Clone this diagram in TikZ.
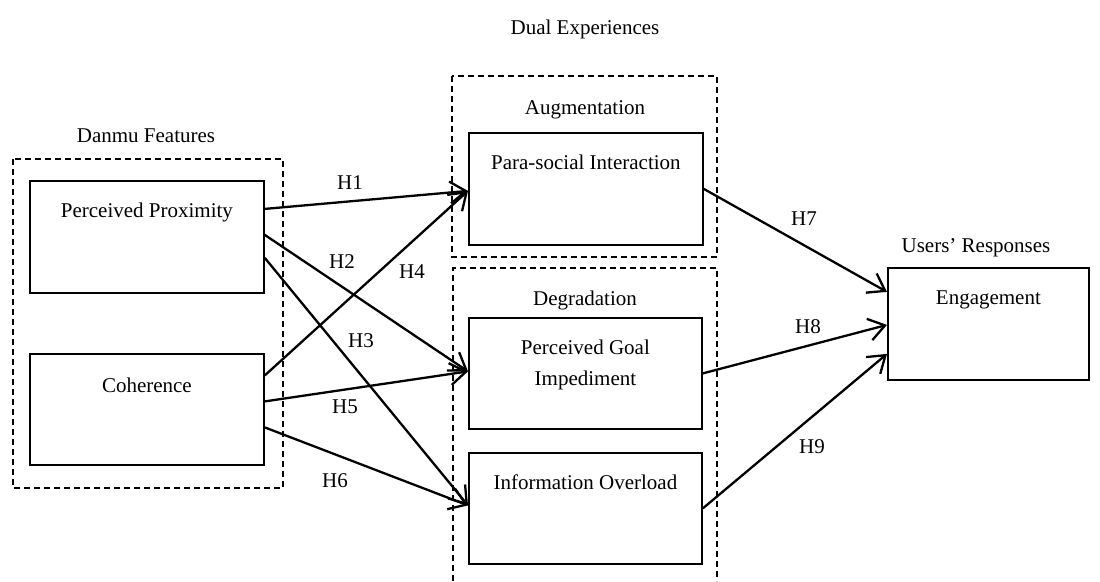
\documentclass[tikz,border=0pt]{standalone}
\usepackage{fontspec}
\setmainfont{Liberation Serif}
\usetikzlibrary{arrows.meta}
\begin{document}
\begin{tikzpicture}[x=1pt,y=-1pt,
  every node/.style={font=\fontsize{21}{31}\selectfont},
  box/.style={draw, line width=1.8pt, inner sep=0pt, anchor=north west},
  grp/.style={draw, dashed, line width=1.4pt, dash pattern=on 6pt off 4pt},
  ttl/.style={anchor=base, inner sep=0pt},
  inlab/.style={anchor=base, inner sep=0pt, yshift=-37pt, align=center},
  arr/.style={line width=2.3pt, -{Straight Barb[length=16pt,width=22pt,line width=2.3pt]}},
  hl/.style={inner sep=0pt}]
\useasboundingbox (0,0) rectangle (1100,581);
% group frames
\draw[grp] (13,159) rectangle (283,488);
\draw[grp] (452,76) rectangle (717,257);
\draw[grp] (453,581) -- (453,268) -- (717,268) -- (717,581);
% titles
\node[ttl] (tdual) at (585,34) {Dual Experiences};
\node[ttl] (tdanmu) at (146,142) {Danmu Features};
\node[ttl] (taug) at (585,114) {Augmentation};
\node[ttl] (tdeg) at (585,305) {Degradation};
\node[ttl] (tusr) at (976,252) {Users’ Responses};
% boxes
\node[box, minimum width=234pt, minimum height=112pt,
  label={[inlab]north:Perceived Proximity}] (pp) at (29,180) {};
\node[box, minimum width=234pt, minimum height=111pt,
  label={[inlab, yshift=-2pt]north:Coherence}] (coh) at (29,353) {};
\node[box, minimum width=234pt, minimum height=112pt,
  label={[inlab]north:Para-social Interaction}] (psi) at (468,132) {};
\node[box, minimum width=233pt, minimum height=111pt,
  label={[inlab, yshift=-31pt]north:Perceived Goal\\Impediment}] (pgi) at (468,317) {};
\node[box, minimum width=233pt, minimum height=111pt,
  label={[inlab]north:Information Overload}] (io) at (468,452) {};
\node[box, minimum width=201pt, minimum height=112pt,
  label={[inlab]north:Engagement}] (eng) at (887,267) {};
% arrows
\draw[arr] ([yshift=28pt]pp.east) -- ([yshift=-2pt]psi.west);
\draw[arr] ([yshift=2pt]pp.east) -- ([yshift=2pt]pgi.west);
\draw[arr] ([yshift=-21pt]pp.east) -- ([yshift=3pt]io.west);
\draw[arr] ([yshift=34pt]coh.east) -- ([yshift=-2pt]psi.west);
\draw[arr] ([yshift=8pt]coh.east) -- ([yshift=2pt]pgi.west);
\draw[arr] ([yshift=-18pt]coh.east) -- ([yshift=3pt]io.west);
\draw[arr] (psi.east) -- ([yshift=32pt]eng.west);
\draw[arr] (pgi.east) -- ([yshift=-1pt]eng.west);
\draw[arr] (io.east) -- ([yshift=-30pt]eng.west);
% hypothesis labels
\node[hl] (h1) at (350,183) {H1};
\node[hl] (h2) at (342,262) {H2};
\node[hl] (h3) at (361,341) {H3};
\node[hl] (h4) at (412,272) {H4};
\node[hl] (h5) at (345,407) {H5};
\node[hl] (h6) at (335,481) {H6};
\node[hl] (h7) at (804,219) {H7};
\node[hl] (h8) at (808,327) {H8};
\node[hl] (h9) at (812,447) {H9};
\end{tikzpicture}
\end{document}
